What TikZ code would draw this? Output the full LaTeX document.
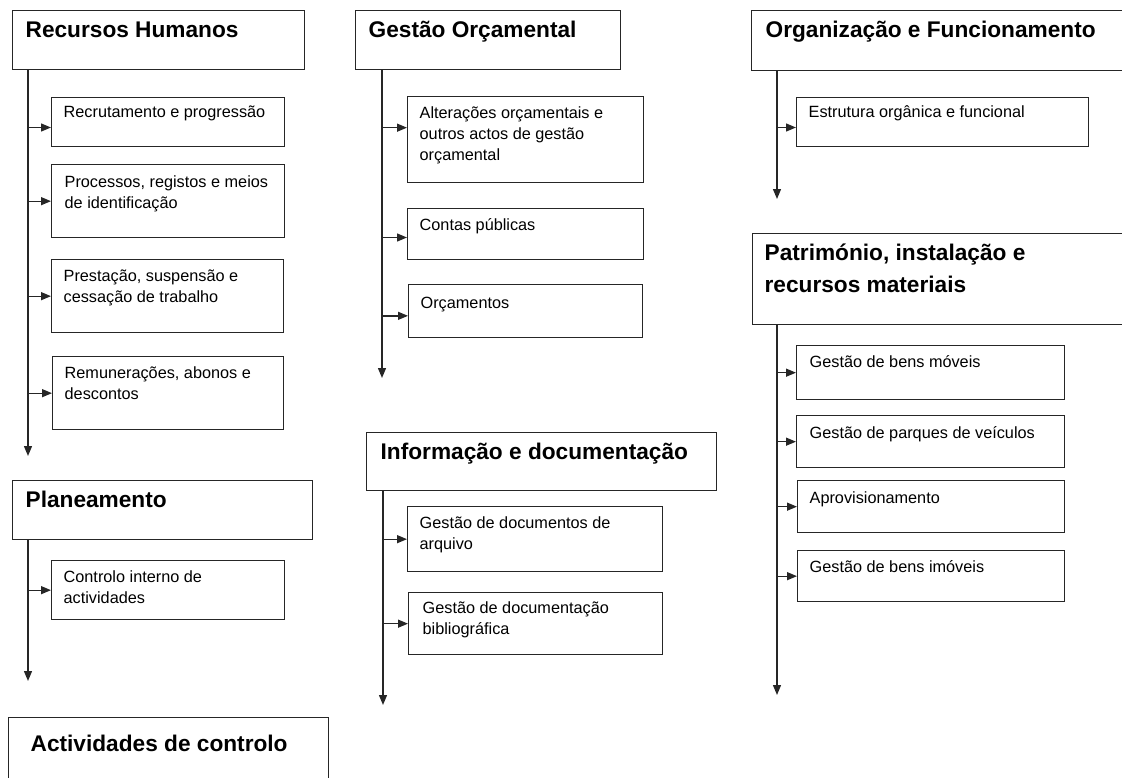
\documentclass[tikz,border=0pt]{standalone}
\usepackage{fontspec}
\setmainfont{Liberation Sans}
\usetikzlibrary{arrows.meta}

\newdimen\pxu \pxu=0.75pt
% box text: width, height, left inset, first baseline, text
\newcommand{\cell}[5]{%
  \vbox to #2\pxu{\kern\dimexpr#4\pxu-\ht\strutbox\relax
    \hbox to #1\pxu{\hskip#3\pxu\parbox[t]{\dimexpr#1\pxu-#3\pxu\relax}{\raggedright\strut#5}\hss}\vss}}

\begin{document}
\begin{tikzpicture}[x=0.75pt,y=-0.75pt]
  \tikzset{
    title/.style={draw=black!85, line width=1pt, anchor=north west, inner sep=0pt,
      font=\fontsize{17}{24}\selectfont\bfseries},
    sub/.style={draw=black!85, line width=1pt, anchor=north west, inner sep=0pt,
      font=\fontsize{12.2}{15.75}\selectfont},
    arr/.style={draw=black!85, line width=1pt, -{Triangle[length=7.5pt,width=6pt]}}
  }
  \useasboundingbox (0,0) rectangle (1122,778);

  % Recursos Humanos
  \node[title] (rh) at (12,10) {\cell{292}{59}{13}{27}{Recursos Humanos}};
  \node[sub] (rh1) at (51,97) {\cell{233}{49}{12}{20}{Recrutamento e progressão}};
  \node[sub] (rh2) at (51,164) {\cell{233}{73}{13}{23}{Processos, registos e meios\\de identificação}};
  \node[sub] (rh3) at (51,259) {\cell{232}{73}{12}{22}{Prestação, suspensão e\\cessação de trabalho}};
  \node[sub] (rh4) at (52,356) {\cell{231}{73}{12}{22}{Remunerações, abonos e\\descontos}};
  \coordinate (rhend) at (28,456);
  \coordinate (rh1in) at ([yshift=-4pt]rh1.west);
  \draw[arr] (rh.south west -| rhend) -- (rhend);
  \draw[arr] (rhend |- rh1in) -- (rh1in);
  \draw[arr] (rhend |- rh2.west) -- (rh2.west);
  \draw[arr] (rhend |- rh3.west) -- (rh3.west);
  \draw[arr] (rhend |- rh4.west) -- (rh4.west);

  % Planeamento
  \node[title] (pl) at (12,480) {\cell{300}{59}{13}{27}{Planeamento}};
  \node[sub] (pl1) at (51,560) {\cell{233}{59}{12}{22}{Controlo interno de\\actividades}};
  \coordinate (plend) at (28,681);
  \draw[arr] (pl.south west -| plend) -- (plend);
  \draw[arr] (plend |- pl1.west) -- (pl1.west);

  % Actividades de controlo
  \node[title] (ac) at (8,717) {\cell{320}{80}{22}{34}{Actividades de controlo}};

  % Gestao Orcamental
  \node[title] (go) at (355,10) {\cell{265}{59}{13}{27}{Gestão Orçamental}};
  \node[sub] (go1) at (407,96) {\cell{236}{86}{12}{22}{Alterações orçamentais e\\outros actos de gestão\\orçamental}};
  \node[sub] (go2) at (407,208) {\cell{236}{51}{12}{22}{Contas públicas}};
  \node[sub] (go3) at (408,284) {\cell{234}{53}{12}{24}{Orçamentos}};
  \coordinate (goend) at (382,378);
  \coordinate (go1in) at ([yshift=9pt]go1.west);
  \coordinate (go2in) at ([yshift=-2.5pt]go2.west);
  \coordinate (go3in) at ([yshift=-3.5pt]go3.west);
  \draw[arr] (go.south west -| goend) -- (goend);
  \draw[arr] (goend |- go1in) -- (go1in);
  \draw[arr] (goend |- go2in) -- (go2in);
  \draw[arr] (goend |- go3in) -- (go3in);

  % Informacao e documentacao
  \node[title] (in) at (366,432) {\cell{350}{58}{14}{27}{Informação e documentação}};
  \node[sub] (in1) at (407,506) {\cell{255}{65}{12}{22}{Gestão de documentos de\\arquivo}};
  \node[sub] (in2) at (408,592) {\cell{254}{62}{14}{21}{Gestão de documentação\\bibliográfica}};
  \coordinate (inend) at (383,705);
  \draw[arr] (in.south west -| inend) -- (inend);
  \draw[arr] (inend |- in1.west) -- (in1.west);
  \draw[arr] (inend |- in2.west) -- (in2.west);

  % Organizacao e Funcionamento
  \node[title] (og) at (751,10) {\cell{390}{60}{14}{27}{Organização e Funcionamento}};
  \node[sub] (og1) at (796,97) {\cell{292}{49}{12}{20}{Estrutura orgânica e funcional}};
  \coordinate (ogend) at (777,199);
  \coordinate (og1in) at ([yshift=-4pt]og1.west);
  \draw[arr] (og.south west -| ogend) -- (ogend);
  \draw[arr] (ogend |- og1in) -- (og1in);

  % Patrimonio
  \node[title] (pt) at (752,233) {\cell{390}{91}{12}{27}{Património, instalação e\\recursos materiais}};
  \node[sub] (pt1) at (796,345) {\cell{268}{54}{13}{22}{Gestão de bens móveis}};
  \node[sub] (pt2) at (796,415) {\cell{268}{52}{13}{23}{Gestão de parques de veículos}};
  \node[sub] (pt3) at (797,480) {\cell{267}{52}{12}{23}{Aprovisionamento}};
  \node[sub] (pt4) at (797,550) {\cell{267}{51}{12}{22}{Gestão de bens imóveis}};
  \coordinate (ptend) at (777,695);
  \draw[arr] (pt.south west -| ptend) -- (ptend);
  \draw[arr] (ptend |- pt1.west) -- (pt1.west);
  \draw[arr] (ptend |- pt2.west) -- (pt2.west);
  \draw[arr] (ptend |- pt3.west) -- (pt3.west);
  \draw[arr] (ptend |- pt4.west) -- (pt4.west);
\end{tikzpicture}
\end{document}
